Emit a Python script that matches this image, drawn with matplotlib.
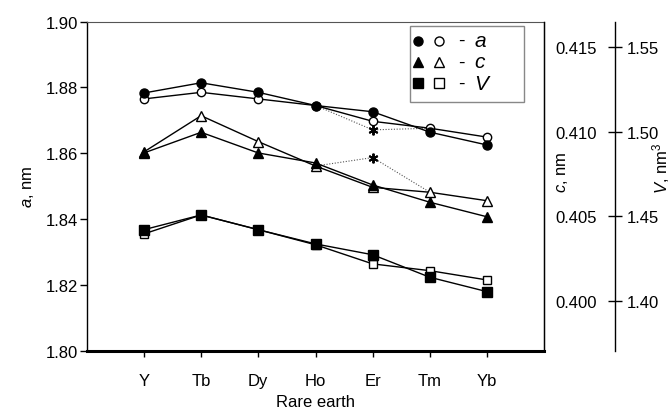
import numpy as np
import matplotlib
matplotlib.use("Agg")
import matplotlib.pyplot as plt
from matplotlib.patches import Rectangle
from matplotlib.ticker import FormatStrFormatter

plt.rcParams['font.family'] = ['Liberation Sans', 'DejaVu Sans']
plt.rcParams['mathtext.fontset'] = 'custom'
plt.rcParams['mathtext.rm'] = 'Liberation Sans'
plt.rcParams['mathtext.it'] = 'Liberation Sans:italic'

# Rare earth elements
earths = ['Y', 'Tb', 'Dy', 'Ho', 'Er', 'Tm', 'Yb']

# lattice parameter a, nm (filled / open)
a_filled = [1.8783, 1.8814, 1.8785, 1.8745, 1.8726, 1.8664, 1.8625]
a_open = [1.8765, 1.8785, 1.8765, 1.8745, 1.8697, 1.8676, 1.8649]

# lattice parameter c, nm
c_filled = [0.40874, 0.40996, 0.40874, 0.40815, 0.40685, 0.40583, 0.40497]
c_open = [0.40880, 0.41094, 0.40941, 0.40797, 0.40671, 0.40642, 0.40592]

# cell volume V, nm3
V_filled = [1.4421, 1.4508, 1.4421, 1.4337, 1.4273, 1.4140, 1.4055]
V_open = [1.4396, 1.4508, 1.4421, 1.4332, 1.4219, 1.4179, 1.4124]

# dotted branch with asterisk at Er
star_x = ['Ho', 'Er', 'Tm']
a_star = [1.8745, 1.8671, 1.8676]
c_star = [0.40797, 0.40847, 0.40642]

# legend entries
leg_markers = ['o', '^', 's']
leg_labels = ['$a$', '$c$', '$V$']

x = np.arange(1, len(earths) + 1)
xs = [earths.index(e) + 1 for e in star_x]

fig = plt.figure(figsize=(6.72, 4.10), dpi=100)
ax = fig.add_axes([0.129, 0.142, 0.681, 0.803])
ax2 = ax.twinx()
ax3 = ax.twinx()
ax3.spines['right'].set_position(('axes', 1.1553))

fs = 12
dot_kw = dict(color='#555555', lw=0.8, linestyle=(0, (1, 1.5)))
star_kw = dict(marker=(6, 2, 0), ms=7, mew=1.4, color='black', ls='none')

# a
ax.plot(xs, a_star, **dot_kw)
ax.plot(xs[1], a_star[1], **star_kw)
ax.plot(x, a_open, '-', color='black', lw=1, marker='o', ms=6,
        mfc='white', mec='black', mew=1)
ax.plot(x, a_filled, '-', color='black', lw=1, marker='o', ms=6.5,
        mfc='black', mec='black')

# c
ax2.plot(xs, c_star, **dot_kw)
ax2.plot(xs[1], c_star[1], **star_kw)
ax2.plot(x, c_open, '-', color='black', lw=1, marker='^', ms=6.5,
         mfc='white', mec='black', mew=1)
ax2.plot(x, c_filled, '-', color='black', lw=1, marker='^', ms=7,
         mfc='black', mec='black')

# V
ax3.plot(x, V_open, '-', color='black', lw=1, marker='s', ms=6,
         mfc='white', mec='black', mew=1)
ax3.plot(x, V_filled, '-', color='black', lw=1, marker='s', ms=6.5,
         mfc='black', mec='black')

ax.set_xlim(0, 8)
ax.set_ylim(1.80, 1.90)
ax2.set_ylim(0.39706, 0.41650)
ax3.set_ylim(1.3706, 1.5650)

ax.set_xticks(x)
ax.set_xticklabels(earths, fontsize=fs)
ax.set_yticks(np.arange(1.80, 1.901, 0.02))
ax.yaxis.set_major_formatter(FormatStrFormatter('%.2f'))
ax.tick_params(axis='x', direction='out', length=4, width=1, pad=12)
ax.tick_params(axis='y', direction='out', length=5, width=1, pad=1, labelsize=fs)

ax2.set_yticks([0.400, 0.405, 0.410, 0.415])
ax2.yaxis.set_major_formatter(FormatStrFormatter('%.3f'))
ax2.tick_params(axis='y', length=0, pad=8, labelsize=fs)

ax3.set_yticks([1.40, 1.45, 1.50, 1.55])
ax3.yaxis.set_major_formatter(FormatStrFormatter('%.2f'))
ax3.tick_params(axis='y', direction='inout', length=10, width=1, pad=3, labelsize=fs)

for s in ['top', 'left', 'bottom']:
    ax3.spines[s].set_visible(False)
    ax2.spines[s].set_visible(False)
ax.spines['bottom'].set_linewidth(2.2)
ax.spines['left'].set_linewidth(1)
ax.spines['top'].set_linewidth(0.8)
ax.spines['top'].set_color('#555555')
ax2.spines['right'].set_linewidth(1)
ax3.spines['right'].set_linewidth(1)

ax.set_xlabel('Rare earth', fontsize=fs, labelpad=4)
ax.set_ylabel('$a$, nm', fontsize=fs, labelpad=7)
fig.text(562 / 672, 1 - 172 / 410, '$c$, nm', rotation=90, fontsize=fs,
         ha='center', va='center')
fig.text(661 / 672, 1 - 168 / 410, '$V$, nm$^3$', rotation=90, fontsize=fs,
         ha='center', va='center')

# legend box, drawn in figure pixels
def fx(px):
    return px / 672

def fy(py):
    return 1 - py / 410

fig.patches.append(Rectangle((fx(410), fy(103)), fx(524) - fx(410), fy(27) - fy(103),
                             transform=fig.transFigure, facecolor='white',
                             edgecolor='#888888', lw=1, zorder=5))
rows = [41.7, 63.0, 84.0]
for m, lab, py in zip(leg_markers, leg_labels, rows):
    fig.add_artist(plt.Line2D([fx(418)], [fy(py)], marker=m, ms=6.5, ls='none',
                              color='black', transform=fig.transFigure, zorder=6))
    fig.add_artist(plt.Line2D([fx(439.5)], [fy(py)], marker=m, ms=6.5, ls='none',
                              mfc='white', mec='black', mew=1,
                              transform=fig.transFigure, zorder=6))
    fig.text(fx(461), fy(py), '-', fontsize=fs + 2, ha='center', va='center', zorder=6)
    fig.text(fx(474), fy(py), lab, fontsize=fs + 3, ha='left', va='center', zorder=6)

fig.savefig('out.png', dpi=100)
